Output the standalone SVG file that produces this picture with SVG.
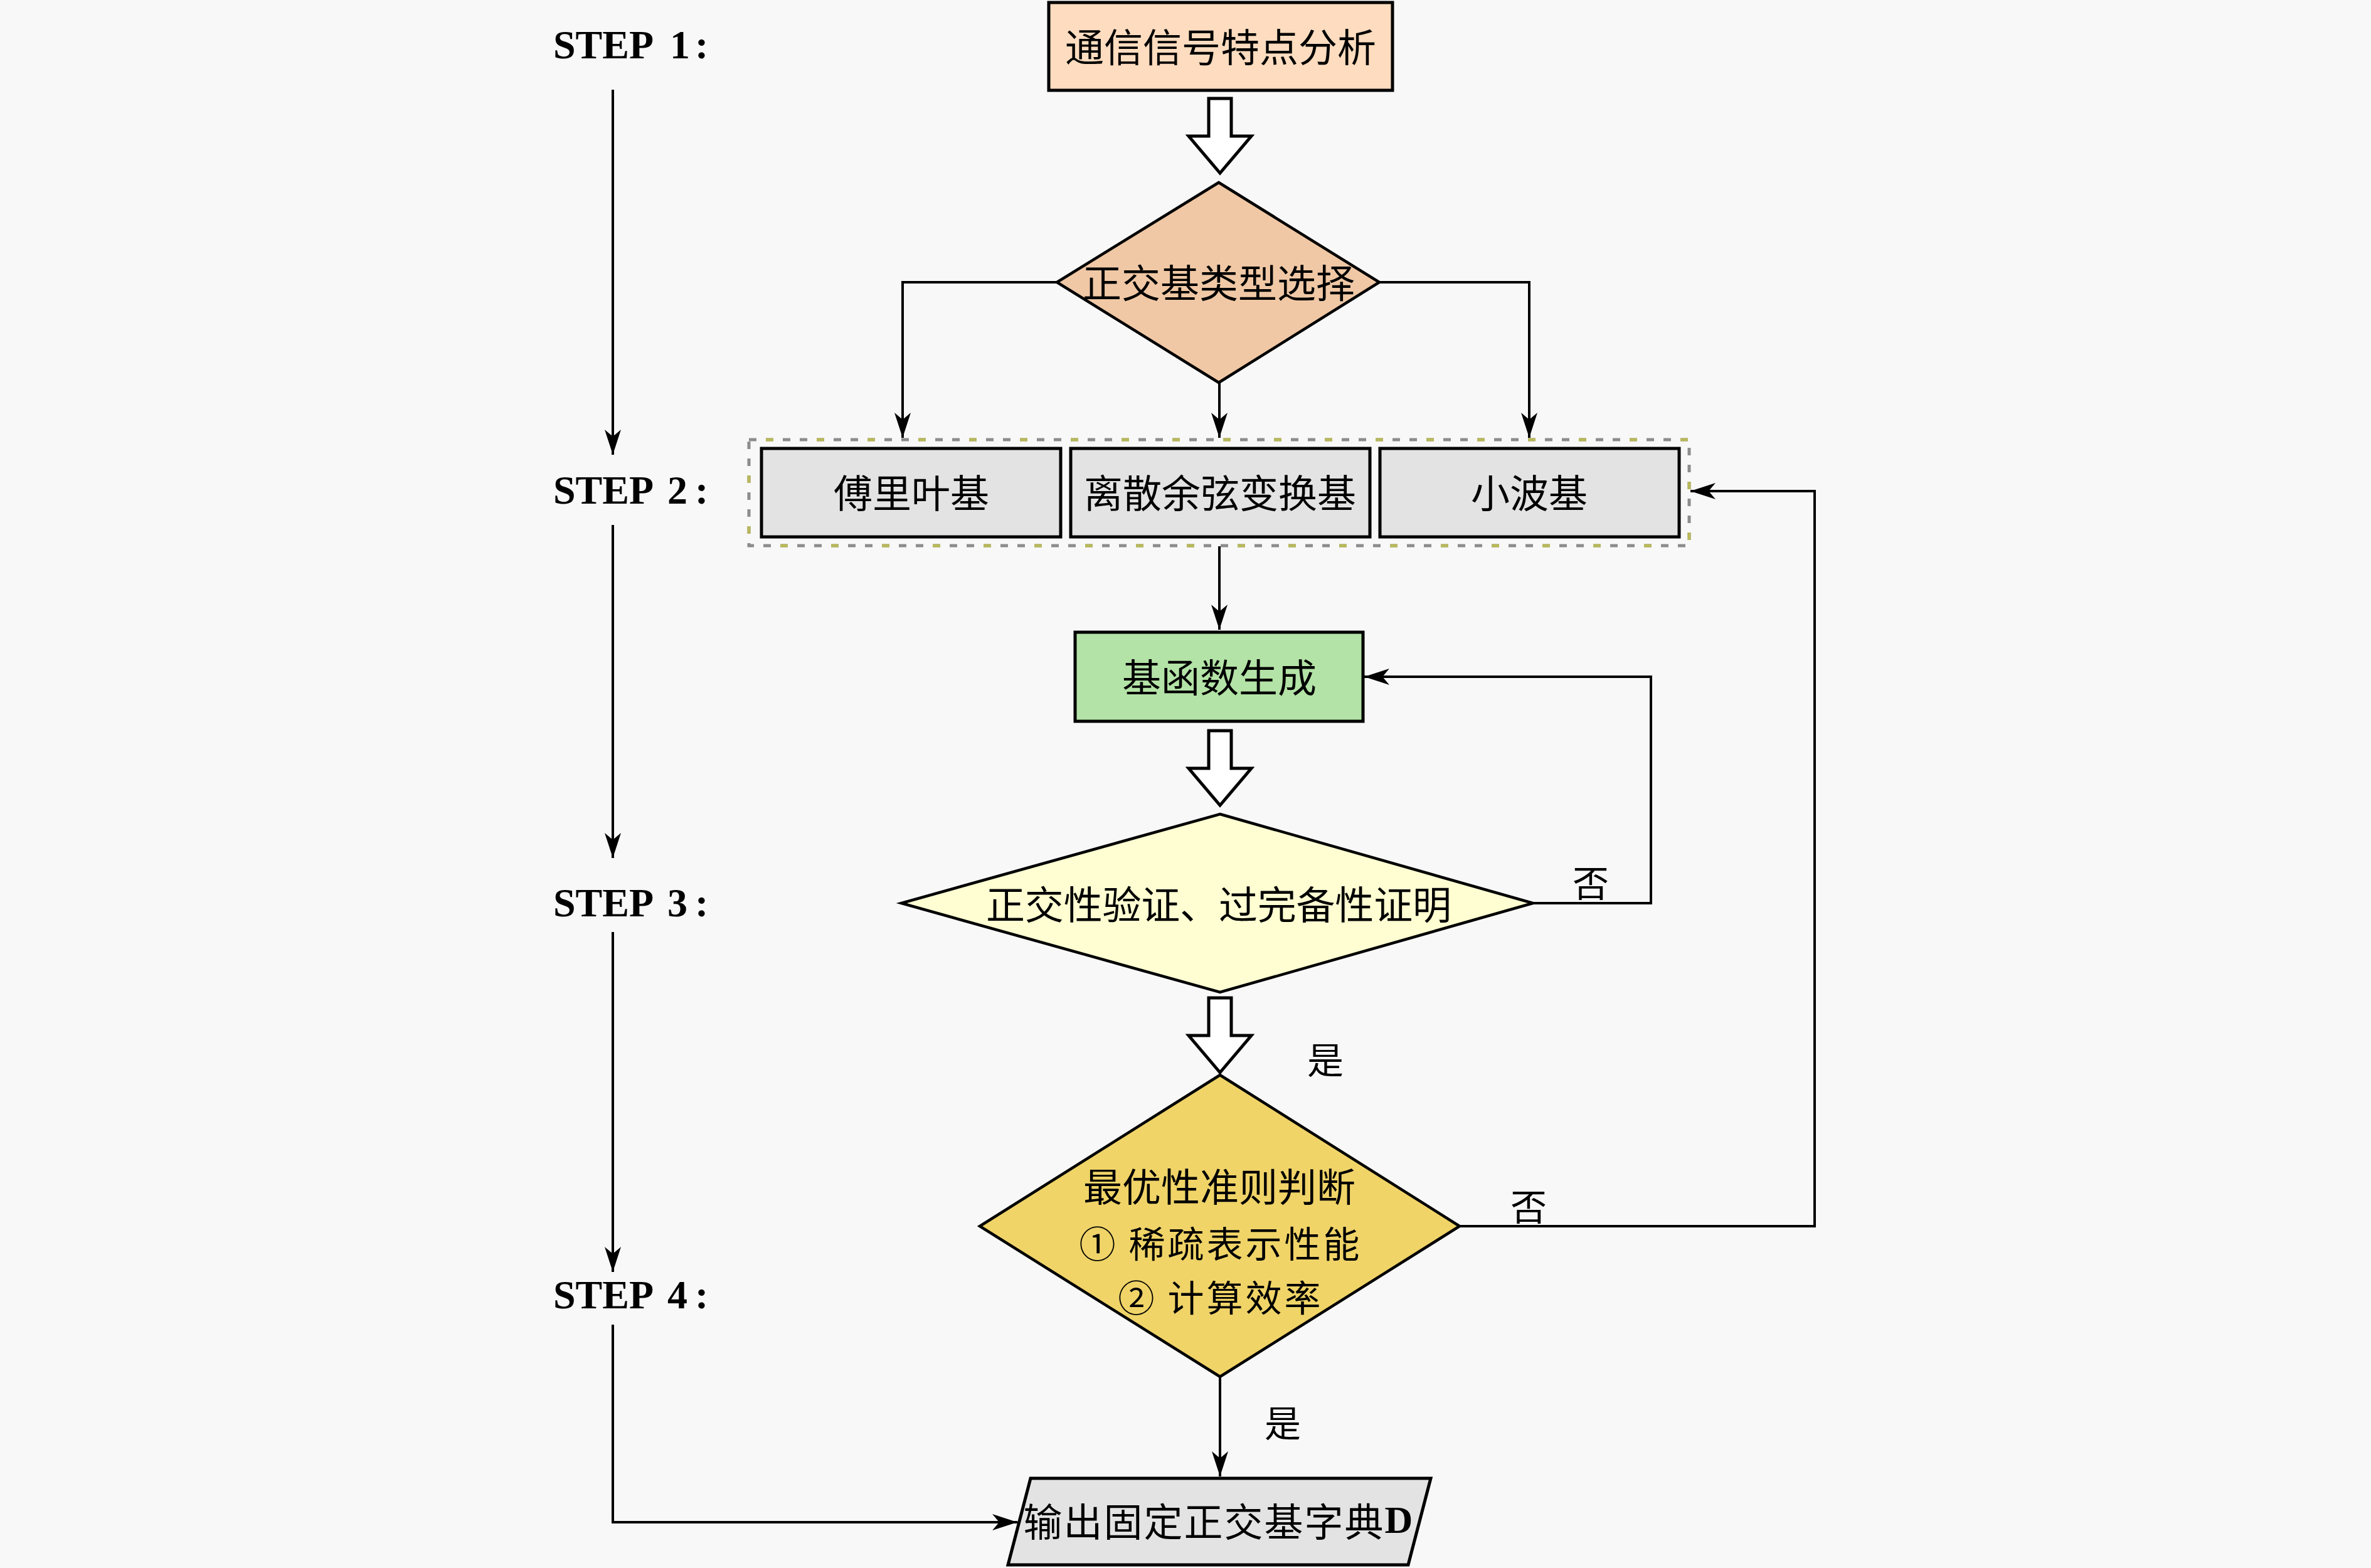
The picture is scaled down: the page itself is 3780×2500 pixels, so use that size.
<svg xmlns="http://www.w3.org/2000/svg" width="3780" height="2500" viewBox="0 0 3780 2500">
<defs>
<style>
.box{stroke:#000;stroke-width:5}
.dia{stroke:#000;stroke-width:4.5}
.cn{fill:none;stroke:#000;stroke-width:4;marker-end:url(#ah)}
.t{font-family:"Noto Sans CJK SC","Noto Sans CJK TC",sans-serif;font-size:62px;text-anchor:middle;dominant-baseline:central;fill:#000}
.t2{font-family:"Noto Sans CJK SC","Noto Sans CJK TC",sans-serif;font-size:58px;text-anchor:middle;dominant-baseline:central;fill:#000;letter-spacing:4px}
.lb{font-family:"Noto Sans CJK SC",sans-serif;font-size:58px;text-anchor:middle;dominant-baseline:central;fill:#000}
.step{font-family:"Liberation Serif",serif;font-weight:bold;font-size:64px;fill:#000}
.hollow{fill:#fff;stroke:#000;stroke-width:5;stroke-linejoin:miter}
</style>
<marker id="ah" markerUnits="userSpaceOnUse" viewBox="0 0 40 26" refX="40" refY="13" markerWidth="40" markerHeight="26" orient="auto">
<path d="M0,0 L40,13 L0,26 L11,13 Z" fill="#000"/>
</marker>
<path id="hol" class="hollow" d="M-18,0 H18 V60 H50 L0,119 L-50,60 H-18 Z"/>
</defs>
<rect width="3780" height="2500" fill="#f8f8f8"/>

<g id="steps">
<text class="step" y="93"><tspan x="882">STEP</tspan><tspan x="1068">1</tspan><tspan x="1108">:</tspan></text>
<text class="step" y="803"><tspan x="882">STEP</tspan><tspan x="1064">2</tspan><tspan x="1108">:</tspan></text>
<text class="step" y="1461"><tspan x="882">STEP</tspan><tspan x="1064">3</tspan><tspan x="1108">:</tspan></text>
<text class="step" y="2086"><tspan x="882">STEP</tspan><tspan x="1064">4</tspan><tspan x="1108">:</tspan></text>
</g>

<g id="connectors">
<path class="cn" d="M977,143 V725"/>
<path class="cn" d="M977,837 V1368"/>
<path class="cn" d="M977,1486 V2028"/>
<path class="cn" d="M977,2112 V2427 H1622"/>
<path class="cn" d="M1685,450 H1439 V698"/>
<path class="cn" d="M1944,611 V698"/>
<path class="cn" d="M2199,450 H2438 V698"/>
<path class="cn" d="M1944,871 V1004"/>
<path class="cn" d="M2444,1440 H2632 V1079 H2175"/>
<path class="cn" d="M2327,1955 H2893 V783 H2695"/>
<path class="cn" d="M1945,2195 V2354"/>
<use href="#hol" x="1945" y="157"/>
<use href="#hol" x="1945" y="1165"/>
<use href="#hol" x="1945" y="1591"/>
<text class="lb" x="2536" y="1405">否</text>
<text class="lb" x="2113" y="1687">是</text>
<text class="lb" x="2437" y="1921">否</text>
<text class="lb" x="2045" y="2266">是</text>
</g>

<g id="n-analysis">
<rect class="box" x="1672" y="4" width="548" height="140" fill="#fddcbf"/>
<text class="t" x="1946" y="72">通信信号特点分析</text>
</g>

<g id="n-select">
<polygon class="dia" points="1943,291 2199,450 1943,610 1685,450" fill="#f0c8a5"/>
<text class="t" x="1943" y="448">正交基类型选择</text>
</g>

<g id="n-group">
<rect x="1194" y="701" width="1499" height="169" fill="none" stroke="#8c8c8c" stroke-width="5" stroke-dasharray="12 15"/>
<rect x="1194" y="701" width="1499" height="169" fill="none" stroke="#b8b85a" stroke-width="5" stroke-dasharray="12 69" stroke-dashoffset="-27"/>
</g>

<g id="n-fourier">
<rect class="box" x="1214" y="715" width="477" height="141" fill="#e3e3e3"/>
<text class="t" x="1453" y="783">傅里叶基</text>
</g>

<g id="n-dct">
<rect class="box" x="1707" y="715" width="477" height="141" fill="#e3e3e3"/>
<text class="t" x="1945" y="783">离散余弦变换基</text>
</g>

<g id="n-wavelet">
<rect class="box" x="2200" y="715" width="477" height="141" fill="#e3e3e3"/>
<text class="t" x="2438" y="783">小波基</text>
</g>

<g id="n-gen">
<rect class="box" x="1714" y="1008" width="459" height="142" fill="#b3e3a6"/>
<text class="t" x="1944" y="1077">基函数生成</text>
</g>

<g id="n-verify">
<polygon class="dia" points="1945,1298 2444,1440 1945,1582 1437,1440" fill="#fefed2"/>
<text class="t" x="1943" y="1439" textLength="742" lengthAdjust="spacing">正交性验证、过完备性证明</text>
</g>

<g id="n-opt">
<polygon class="dia" points="1945,1714 2327,1955 1945,2195 1562,1955" fill="#f0d468"/>
<text class="t" x="1944" y="1889">最优性准则判断</text>
<text class="t2" x="1946" y="1980">① 稀疏表示性能</text>
<text class="t2" x="1946" y="2066">② 计算效率</text>
</g>

<g id="n-output">
<polygon class="box" points="1643,2357 2281,2357 2245,2495 1607,2495" fill="#e3e3e3"/>
<text class="t" x="1943" y="2423" letter-spacing="2">输出固定正交基字典<tspan font-family="Liberation Serif" font-weight="bold">D</tspan></text>
</g>
</svg>
